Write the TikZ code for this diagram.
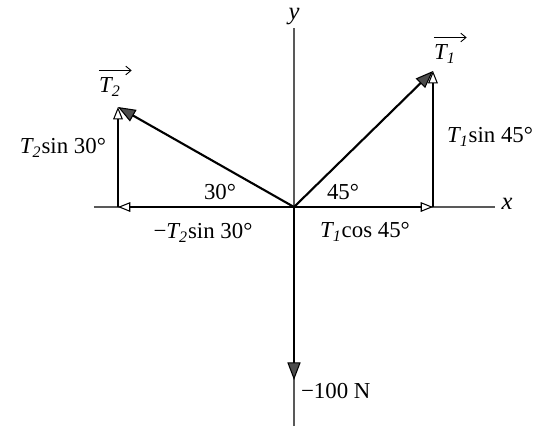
\documentclass[tikz,border=0pt]{standalone}
\usepackage{amsmath}
\usepackage{fontspec}
\setmainfont{Liberation Serif}
\usepackage{tikz}
\usetikzlibrary{arrows.meta, calc, positioning}

\tikzset{
    axisline/.style={line width=0.6pt, gray!70!black},
    vecline/.style={line width=1.2pt, -{Triangle[length=10pt, width=7.5pt, fill=gray!60!black, line width=0.6pt]}},
    compline/.style={line width=0.8pt, -{Triangle[length=7pt, width=5.5pt, fill=white, line width=0.6pt]}},
    lbl/.style={font=\fontsize{13}{15}\selectfont, inner sep=1pt},
    vecarrow/.style={line width=0.5pt, -{Straight Barb[length=3pt, width=5pt]}}
}
\newcommand{\Tsub}[1]{{\itshape T\textsubscript{#1}}}

\begin{document}
\begin{tikzpicture}[>=Stealth, scale=1.0]
    \useasboundingbox (-5.88,-4.42) rectangle (4.88,4.14);

    % points
    \coordinate (O) at (0,0);
    \coordinate (xl) at (-4.0,0);
    \coordinate (xr) at (4.02,0);
    \coordinate (yt) at (0,3.58);
    \coordinate (yb) at (0,-4.38);
    \coordinate (T1tip) at (2.78,2.72);
    \coordinate (T2tip) at (-3.52,2.00);
    \coordinate (T1x) at (2.78,0);
    \coordinate (T2x) at (-3.52,0);
    \coordinate (Wtip) at (0,-3.46);

    % axes
    \draw[axisline] (xl) -- (xr);
    \draw[axisline] (yb) -- (yt);
    \node[lbl, font=\fontsize{14}{16}\selectfont\itshape] (xlab) at (4.26,0.06) {x};
    \node[lbl, font=\fontsize{14}{16}\selectfont\itshape] (ylab) at (0,3.80) {y};

    % components
    \draw[compline] (O) -- (T2x);
    \draw[compline] (T2x) -- (T2tip);
    \draw[compline] (O) -- (T1x);
    \draw[compline] (T1x) -- (T1tip);

    % vectors
    \draw[vecline] (O) -- (T2tip);
    \draw[vecline] (O) -- (T1tip);
    \draw[vecline] (O) -- (Wtip);

    % vector names
    \node[lbl] (T2lab) at (-3.68,2.40) {\Tsub{2}};
    \node[lbl] (T1lab) at (3.02,3.06) {\Tsub{1}};
    \draw[vecarrow] ([xshift=1pt, yshift=3pt]T2lab.north west) -- ([xshift=5pt, yshift=3pt]T2lab.north east);
    \draw[vecarrow] ([xshift=1pt, yshift=3pt]T1lab.north west) -- ([xshift=5pt, yshift=3pt]T1lab.north east);

    % labels
    \node[lbl, anchor=east] (T2y) at (-3.72,1.18) {\Tsub{2}sin 30°};
    \node[lbl, anchor=west] (T1y) at (3.02,1.40) {\Tsub{1}sin 45°};
    \node[lbl] (T2xlab) at (-1.82,-0.52) {−\Tsub{2}sin 30°};
    \node[lbl] (T1xlab) at (1.42,-0.50) {\Tsub{1}cos 45°};
    \node[lbl] (ang30) at (-1.48,0.30) {30°};
    \node[lbl] (ang45) at (0.98,0.30) {45°};
    \node[lbl, anchor=west] (Wlab) at (0.1,-3.68) {−100 N};
\end{tikzpicture}
\end{document}
